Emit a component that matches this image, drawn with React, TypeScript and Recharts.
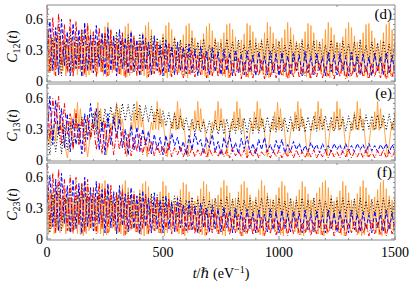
import { Line, LineChart, XAxis, YAxis } from "recharts";

const FRAME = "#8a8a8a";
const FONT = "'Liberation Serif', 'DejaVu Serif', serif";
const ORANGE = "#ff9a30";
const BLUE = "#0000ff";
const RED = "#ff0000";

const X_TICKS = [0, 100, 200, 300, 400, 500, 600, 700, 800, 900, 1000, 1100, 1200, 1300, 1400, 1500];
const X_LABELS = [0, 500, 1000, 1500];
const Y_TICKS = [0, 0.05, 0.1, 0.15, 0.2, 0.25, 0.3, 0.35, 0.4, 0.45, 0.5, 0.55, 0.6, 0.65, 0.7];
const Y_LABELS = [0, 0.3, 0.6];

// time grid (1/eV) for the dashed / dotted curves
const T = [
  0, 12.5, 25, 37.5, 50, 62.5, 75, 87.5, 100, 112.5,
  125, 137.5, 150, 162.5, 175, 187.5, 200, 212.5, 225, 237.5,
  250, 262.5, 275, 287.5, 300, 312.5, 325, 337.5, 350, 362.5,
  375, 387.5, 400, 412.5, 425, 437.5, 450, 462.5, 475, 487.5,
  500, 512.5, 525, 537.5, 550, 562.5, 575, 587.5, 600, 612.5,
  625, 637.5, 650, 662.5, 675, 687.5, 700, 712.5, 725, 737.5,
  750, 762.5, 775, 787.5, 800, 812.5, 825, 837.5, 850, 862.5,
  875, 887.5, 900, 912.5, 925, 937.5, 950, 962.5, 975, 987.5,
  1000, 1012.5, 1025, 1037.5, 1050, 1062.5, 1075, 1087.5, 1100, 1112.5,
  1125, 1137.5, 1150, 1162.5, 1175, 1187.5, 1200, 1212.5, 1225, 1237.5,
  1250, 1262.5, 1275, 1287.5, 1300, 1312.5, 1325, 1337.5, 1350, 1362.5,
  1375, 1387.5, 1400, 1412.5, 1425, 1437.5, 1450, 1462.5, 1475, 1487.5,
  1500,
];

// finer grid for the fast orange oscillation
const T_FINE = [
  0, 6.25, 12.5, 18.75, 25, 31.25, 37.5, 43.75, 50, 56.25, 62.5, 68.75, 75, 81.25, 87.5, 93.75,
  100, 106.25, 112.5, 118.75, 125, 131.25, 137.5, 143.75, 150, 156.25, 162.5, 168.75, 175, 181.25, 187.5, 193.75,
  200, 206.25, 212.5, 218.75, 225, 231.25, 237.5, 243.75, 250, 256.25, 262.5, 268.75, 275, 281.25, 287.5, 293.75,
  300, 306.25, 312.5, 318.75, 325, 331.25, 337.5, 343.75, 350, 356.25, 362.5, 368.75, 375, 381.25, 387.5, 393.75,
  400, 406.25, 412.5, 418.75, 425, 431.25, 437.5, 443.75, 450, 456.25, 462.5, 468.75, 475, 481.25, 487.5, 493.75,
  500, 506.25, 512.5, 518.75, 525, 531.25, 537.5, 543.75, 550, 556.25, 562.5, 568.75, 575, 581.25, 587.5, 593.75,
  600, 606.25, 612.5, 618.75, 625, 631.25, 637.5, 643.75, 650, 656.25, 662.5, 668.75, 675, 681.25, 687.5, 693.75,
  700, 706.25, 712.5, 718.75, 725, 731.25, 737.5, 743.75, 750, 756.25, 762.5, 768.75, 775, 781.25, 787.5, 793.75,
  800, 806.25, 812.5, 818.75, 825, 831.25, 837.5, 843.75, 850, 856.25, 862.5, 868.75, 875, 881.25, 887.5, 893.75,
  900, 906.25, 912.5, 918.75, 925, 931.25, 937.5, 943.75, 950, 956.25, 962.5, 968.75, 975, 981.25, 987.5, 993.75,
  1000, 1006.25, 1012.5, 1018.75, 1025, 1031.25, 1037.5, 1043.75, 1050, 1056.25, 1062.5, 1068.75, 1075, 1081.25, 1087.5, 1093.75,
  1100, 1106.25, 1112.5, 1118.75, 1125, 1131.25, 1137.5, 1143.75, 1150, 1156.25, 1162.5, 1168.75, 1175, 1181.25, 1187.5, 1193.75,
  1200, 1206.25, 1212.5, 1218.75, 1225, 1231.25, 1237.5, 1243.75, 1250, 1256.25, 1262.5, 1268.75, 1275, 1281.25, 1287.5, 1293.75,
  1300, 1306.25, 1312.5, 1318.75, 1325, 1331.25, 1337.5, 1343.75, 1350, 1356.25, 1362.5, 1368.75, 1375, 1381.25, 1387.5, 1393.75,
  1400, 1406.25, 1412.5, 1418.75, 1425, 1431.25, 1437.5, 1443.75, 1450, 1456.25, 1462.5, 1468.75, 1475, 1481.25, 1487.5, 1493.75,
  1500,
];

// panel (d): C12
const D_ORANGE = [
  0.30, 0.08, 0.45, 0.10, 0.40, 0.06, 0.48, 0.12, 0.42, 0.07, 0.38, 0.10, 0.46, 0.05, 0.40, 0.09,
  0.38, 0.08, 0.40, 0.10, 0.36, 0.06, 0.42, 0.09, 0.46, 0.05, 0.52, 0.04, 0.56, 0.06, 0.50, 0.08,
  0.42, 0.10, 0.38, 0.07, 0.40, 0.09, 0.45, 0.05, 0.53, 0.04, 0.57, 0.06, 0.50, 0.08, 0.44, 0.10,
  0.38, 0.07, 0.40, 0.06, 0.46, 0.05, 0.53, 0.04, 0.56, 0.05, 0.49, 0.08, 0.42, 0.10, 0.37, 0.08,
  0.40, 0.06, 0.47, 0.05, 0.54, 0.03, 0.57, 0.06, 0.50, 0.07, 0.43, 0.10, 0.38, 0.08, 0.40, 0.07,
  0.46, 0.05, 0.54, 0.03, 0.57, 0.05, 0.50, 0.08, 0.43, 0.10, 0.38, 0.08, 0.40, 0.06, 0.45, 0.05,
  0.54, 0.03, 0.56, 0.06, 0.49, 0.08, 0.42, 0.10, 0.37, 0.08, 0.40, 0.06, 0.46, 0.05, 0.53, 0.03,
  0.56, 0.06, 0.49, 0.08, 0.42, 0.10, 0.38, 0.07, 0.41, 0.05, 0.47, 0.04, 0.55, 0.03, 0.56, 0.06,
  0.50, 0.08, 0.43, 0.10, 0.37, 0.08, 0.40, 0.06, 0.46, 0.04, 0.56, 0.03, 0.54, 0.06, 0.48, 0.08,
  0.42, 0.10, 0.37, 0.08, 0.41, 0.06, 0.47, 0.04, 0.57, 0.03, 0.53, 0.06, 0.47, 0.08, 0.41, 0.10,
  0.38, 0.07, 0.42, 0.05, 0.50, 0.04, 0.57, 0.03, 0.52, 0.06, 0.45, 0.08, 0.39, 0.10, 0.37, 0.08,
  0.41, 0.06, 0.48, 0.04, 0.56, 0.03, 0.54, 0.06, 0.47, 0.08, 0.40, 0.10, 0.37, 0.07, 0.41, 0.05,
  0.50, 0.04, 0.57, 0.03, 0.52, 0.06, 0.45, 0.09, 0.38, 0.10, 0.37, 0.07, 0.43, 0.05, 0.51, 0.03,
  0.57, 0.04, 0.52, 0.07, 0.44, 0.09, 0.38, 0.10, 0.40, 0.07, 0.47, 0.05, 0.55, 0.03, 0.56, 0.06,
  0.49, 0.08, 0.42, 0.10, 0.37, 0.08, 0.40, 0.06, 0.47, 0.04, 0.55, 0.03, 0.57, 0.05, 0.50, 0.07,
  0.45,
];
const D_BLACK = [
  0.50, 0.08, 0.42, 0.15, 0.55, 0.05, 0.38, 0.12, 0.48, 0.10,
  0.44, 0.16, 0.50, 0.09, 0.36, 0.14, 0.47, 0.18, 0.40, 0.12,
  0.46, 0.20, 0.38, 0.15, 0.48, 0.22, 0.42, 0.16, 0.45, 0.19,
  0.40, 0.21, 0.46, 0.17, 0.39, 0.24, 0.44, 0.18, 0.42, 0.22,
  0.43, 0.20, 0.37, 0.25, 0.42, 0.19, 0.40, 0.23, 0.36, 0.20,
  0.42, 0.24, 0.38, 0.19, 0.41, 0.22, 0.35, 0.20, 0.40, 0.25,
  0.37, 0.20, 0.41, 0.23, 0.38, 0.19, 0.40, 0.24, 0.35, 0.21,
  0.40, 0.19, 0.37, 0.24, 0.39, 0.21, 0.41, 0.18, 0.36, 0.23,
  0.39, 0.20, 0.35, 0.22, 0.40, 0.18, 0.37, 0.24, 0.39, 0.19,
  0.36, 0.23, 0.39, 0.18, 0.38, 0.21, 0.35, 0.19, 0.40, 0.22,
  0.37, 0.18, 0.39, 0.23, 0.36, 0.20, 0.38, 0.17, 0.40, 0.22,
  0.35, 0.19, 0.38, 0.22, 0.37, 0.18, 0.39, 0.21, 0.36, 0.19,
  0.38,
];
const D_BLUE = [
  0.30, 0.58, 0.10, 0.52, 0.06, 0.60, 0.15, 0.48, 0.05, 0.56,
  0.12, 0.50, 0.04, 0.57, 0.10, 0.45, 0.08, 0.54, 0.14, 0.47,
  0.06, 0.52, 0.10, 0.44, 0.05, 0.50, 0.12, 0.42, 0.07, 0.48,
  0.09, 0.40, 0.05, 0.46, 0.11, 0.38, 0.06, 0.44, 0.10, 0.36,
  0.05, 0.40, 0.09, 0.34, 0.06, 0.38, 0.10, 0.33, 0.07, 0.36,
  0.08, 0.31, 0.05, 0.34, 0.10, 0.29, 0.06, 0.33, 0.09, 0.28,
  0.06, 0.31, 0.10, 0.27, 0.05, 0.30, 0.08, 0.26, 0.06, 0.29,
  0.09, 0.25, 0.05, 0.28, 0.10, 0.24, 0.06, 0.29, 0.08, 0.26,
  0.05, 0.28, 0.09, 0.24, 0.06, 0.27, 0.10, 0.25, 0.05, 0.29,
  0.08, 0.24, 0.06, 0.27, 0.10, 0.23, 0.05, 0.28, 0.09, 0.25,
  0.06, 0.27, 0.10, 0.23, 0.05, 0.28, 0.08, 0.24, 0.06, 0.26,
  0.09, 0.23, 0.05, 0.27, 0.10, 0.24, 0.06, 0.28, 0.08, 0.25,
  0.07,
];
const D_RED = [
  0.70, 0.10, 0.62, 0.05, 0.66, 0.15, 0.55, 0.08, 0.60, 0.04,
  0.58, 0.12, 0.50, 0.06, 0.56, 0.10, 0.48, 0.04, 0.52, 0.09,
  0.46, 0.05, 0.50, 0.11, 0.42, 0.06, 0.47, 0.03, 0.40, 0.08,
  0.44, 0.05, 0.38, 0.09, 0.42, 0.04, 0.35, 0.07, 0.38, 0.05,
  0.32, 0.08, 0.36, 0.04, 0.30, 0.06, 0.33, 0.03, 0.28, 0.07,
  0.30, 0.04, 0.25, 0.06, 0.28, 0.03, 0.23, 0.05, 0.26, 0.04,
  0.21, 0.06, 0.24, 0.03, 0.20, 0.05, 0.22, 0.02, 0.19, 0.04,
  0.21, 0.03, 0.17, 0.05, 0.20, 0.02, 0.16, 0.04, 0.19, 0.03,
  0.15, 0.05, 0.18, 0.02, 0.16, 0.04, 0.19, 0.03, 0.14, 0.05,
  0.17, 0.02, 0.15, 0.04, 0.18, 0.03, 0.14, 0.05, 0.17, 0.02,
  0.15, 0.04, 0.18, 0.02, 0.14, 0.05, 0.16, 0.03, 0.18, 0.04,
  0.14, 0.02, 0.17, 0.04, 0.15, 0.03, 0.18, 0.02, 0.15, 0.04,
  0.16,
];

// panel (e): C13
const E_ORANGE = [
  0.22, 0.30, 0.15, 0.34, 0.20, 0.36, 0.18, 0.38, 0.25, 0.40, 0.28, 0.36, 0.20, 0.10, 0.02, 0.12,
  0.28, 0.42, 0.30, 0.50, 0.29, 0.56, 0.30, 0.50, 0.33, 0.40, 0.28, 0.15, 0.03, 0.14, 0.27, 0.36,
  0.30, 0.48, 0.28, 0.56, 0.30, 0.50, 0.32, 0.40, 0.26, 0.05, 0.15, 0.27, 0.36, 0.28, 0.46, 0.30,
  0.56, 0.29, 0.50, 0.32, 0.40, 0.26, 0.14, 0.03, 0.16, 0.27, 0.37, 0.29, 0.47, 0.30, 0.57, 0.29,
  0.50, 0.32, 0.40, 0.27, 0.15, 0.03, 0.15, 0.27, 0.37, 0.29, 0.47, 0.30, 0.57, 0.29, 0.50, 0.32,
  0.40, 0.26, 0.14, 0.03, 0.15, 0.27, 0.37, 0.30, 0.47, 0.29, 0.57, 0.30, 0.50, 0.32, 0.40, 0.26,
  0.12, 0.03, 0.15, 0.27, 0.37, 0.29, 0.48, 0.30, 0.57, 0.29, 0.50, 0.32, 0.40, 0.26, 0.13, 0.03,
  0.15, 0.27, 0.37, 0.29, 0.48, 0.30, 0.57, 0.29, 0.50, 0.32, 0.40, 0.26, 0.04, 0.14, 0.27, 0.36,
  0.29, 0.47, 0.30, 0.57, 0.29, 0.50, 0.32, 0.40, 0.26, 0.14, 0.03, 0.15, 0.27, 0.37, 0.29, 0.47,
  0.30, 0.57, 0.29, 0.50, 0.32, 0.40, 0.26, 0.14, 0.03, 0.15, 0.27, 0.37, 0.29, 0.47, 0.30, 0.56,
  0.29, 0.50, 0.32, 0.40, 0.26, 0.12, 0.03, 0.15, 0.27, 0.37, 0.29, 0.47, 0.30, 0.57, 0.29, 0.50,
  0.32, 0.40, 0.26, 0.12, 0.03, 0.15, 0.27, 0.37, 0.29, 0.47, 0.30, 0.57, 0.29, 0.50, 0.32, 0.40,
  0.26, 0.04, 0.14, 0.27, 0.37, 0.29, 0.47, 0.30, 0.57, 0.29, 0.50, 0.32, 0.40, 0.26, 0.13, 0.03,
  0.15, 0.27, 0.37, 0.29, 0.47, 0.30, 0.57, 0.29, 0.50, 0.32, 0.40, 0.26, 0.12, 0.03, 0.15, 0.27,
  0.37, 0.29, 0.47, 0.30, 0.57, 0.29, 0.50, 0.32, 0.40, 0.26, 0.12, 0.03, 0.15, 0.27, 0.37, 0.29,
  0.47,
];
const E_BLACK = [
  0.28, 0.05, 0.30, 0.08, 0.32, 0.06, 0.34, 0.10, 0.36, 0.12,
  0.40, 0.15, 0.42, 0.20, 0.44, 0.22, 0.46, 0.25, 0.48, 0.28,
  0.50, 0.32, 0.52, 0.35, 0.54, 0.36, 0.55, 0.38, 0.54, 0.38,
  0.55, 0.39, 0.54, 0.38, 0.53, 0.37, 0.52, 0.36, 0.50, 0.35,
  0.48, 0.33, 0.46, 0.31, 0.45, 0.30, 0.43, 0.29, 0.41, 0.28,
  0.40, 0.27, 0.39, 0.27, 0.38, 0.26, 0.38, 0.26, 0.39, 0.25,
  0.39, 0.25, 0.40, 0.25, 0.40, 0.26, 0.41, 0.25, 0.41, 0.26,
  0.41, 0.26, 0.42, 0.26, 0.41, 0.27, 0.42, 0.27, 0.42, 0.27,
  0.42, 0.28, 0.41, 0.27, 0.42, 0.28, 0.43, 0.28, 0.42, 0.27,
  0.42, 0.28, 0.43, 0.28, 0.42, 0.29, 0.43, 0.28, 0.42, 0.28,
  0.43, 0.29, 0.42, 0.28, 0.43, 0.29, 0.44, 0.29, 0.43, 0.28,
  0.44, 0.30, 0.43, 0.29, 0.44, 0.30, 0.44, 0.29, 0.45, 0.30,
  0.44,
];
const E_BLUE = [
  0.20, 0.62, 0.15, 0.58, 0.25, 0.50, 0.12, 0.45, 0.08, 0.40,
  0.15, 0.35, 0.06, 0.45, 0.20, 0.55, 0.30, 0.50, 0.10, 0.38,
  0.05, 0.45, 0.15, 0.42, 0.22, 0.40, 0.12, 0.30, 0.05, 0.34,
  0.10, 0.32, 0.08, 0.30, 0.15, 0.28, 0.06, 0.25, 0.10, 0.22,
  0.05, 0.24, 0.10, 0.26, 0.14, 0.22, 0.08, 0.18, 0.05, 0.24,
  0.10, 0.26, 0.15, 0.20, 0.06, 0.22, 0.12, 0.25, 0.08, 0.18,
  0.05, 0.22, 0.12, 0.24, 0.08, 0.17, 0.06, 0.21, 0.11, 0.23,
  0.07, 0.16, 0.06, 0.20, 0.10, 0.22, 0.08, 0.15, 0.07, 0.19,
  0.10, 0.20, 0.07, 0.15, 0.08, 0.18, 0.10, 0.16, 0.07, 0.14,
  0.08, 0.17, 0.10, 0.15, 0.07, 0.16, 0.09, 0.14, 0.08, 0.16,
  0.10, 0.15, 0.07, 0.16, 0.09, 0.14, 0.08, 0.16, 0.10, 0.15,
  0.07, 0.16, 0.09, 0.14, 0.08, 0.15, 0.10, 0.16, 0.07, 0.15,
  0.09,
];
const E_RED = [
  0.65, 0.20, 0.60, 0.35, 0.62, 0.15, 0.55, 0.25, 0.45, 0.10,
  0.48, 0.15, 0.40, 0.08, 0.42, 0.20, 0.35, 0.10, 0.30, 0.06,
  0.38, 0.12, 0.32, 0.05, 0.28, 0.10, 0.30, 0.06, 0.25, 0.04,
  0.22, 0.08, 0.26, 0.05, 0.20, 0.06, 0.18, 0.04, 0.15, 0.05,
  0.14, 0.04, 0.16, 0.03, 0.12, 0.05, 0.13, 0.03, 0.11, 0.04,
  0.12, 0.03, 0.10, 0.04, 0.12, 0.02, 0.11, 0.04, 0.09, 0.03,
  0.11, 0.03, 0.10, 0.02, 0.12, 0.04, 0.09, 0.03, 0.10, 0.02,
  0.09, 0.03, 0.11, 0.02, 0.08, 0.04, 0.10, 0.02, 0.09, 0.03,
  0.10, 0.02, 0.08, 0.03, 0.09, 0.02, 0.10, 0.03, 0.08, 0.02,
  0.09, 0.03, 0.10, 0.02, 0.08, 0.03, 0.09, 0.02, 0.10, 0.03,
  0.08, 0.02, 0.09, 0.03, 0.10, 0.02, 0.08, 0.03, 0.09, 0.02,
  0.10, 0.03, 0.08, 0.02, 0.09, 0.03, 0.10, 0.02, 0.08, 0.03,
  0.09,
];

// panel (f): C23
const F_ORANGE = [
  0.32, 0.06, 0.47, 0.10, 0.42, 0.05, 0.50, 0.09, 0.44, 0.06, 0.40, 0.11, 0.48, 0.05, 0.42, 0.08,
  0.40, 0.07, 0.37, 0.09, 0.42, 0.05, 0.48, 0.04, 0.54, 0.03, 0.57, 0.05, 0.52, 0.08, 0.44, 0.10,
  0.38, 0.08, 0.41, 0.06, 0.47, 0.05, 0.54, 0.03, 0.57, 0.04, 0.51, 0.07, 0.44, 0.10, 0.38, 0.08,
  0.41, 0.06, 0.47, 0.05, 0.53, 0.03, 0.57, 0.05, 0.50, 0.08, 0.43, 0.10, 0.38, 0.07, 0.41, 0.06,
  0.48, 0.04, 0.54, 0.03, 0.56, 0.05, 0.51, 0.08, 0.44, 0.10, 0.38, 0.08, 0.40, 0.06, 0.46, 0.05,
  0.56, 0.03, 0.52, 0.06, 0.45, 0.09, 0.38, 0.10, 0.37, 0.07, 0.42, 0.05, 0.48, 0.04, 0.55, 0.03,
  0.53, 0.06, 0.46, 0.09, 0.39, 0.10, 0.37, 0.07, 0.42, 0.05, 0.49, 0.04, 0.56, 0.03, 0.53, 0.06,
  0.46, 0.09, 0.39, 0.10, 0.38, 0.07, 0.43, 0.05, 0.50, 0.04, 0.57, 0.03, 0.52, 0.07, 0.45, 0.09,
  0.38, 0.10, 0.40, 0.07, 0.46, 0.05, 0.53, 0.03, 0.56, 0.05, 0.50, 0.08, 0.43, 0.10, 0.37, 0.08,
  0.41, 0.06, 0.48, 0.04, 0.57, 0.03, 0.52, 0.07, 0.45, 0.09, 0.39, 0.10, 0.38, 0.07, 0.43, 0.05,
  0.50, 0.04, 0.56, 0.03, 0.52, 0.06, 0.45, 0.09, 0.38, 0.10, 0.37, 0.07, 0.42, 0.05, 0.48, 0.04,
  0.56, 0.03, 0.51, 0.07, 0.44, 0.10, 0.38, 0.08, 0.40, 0.06, 0.45, 0.05, 0.50, 0.04, 0.55, 0.03,
  0.57, 0.05, 0.50, 0.08, 0.43, 0.10, 0.37, 0.08, 0.41, 0.06, 0.47, 0.04, 0.56, 0.03, 0.52, 0.07,
  0.45, 0.09, 0.38, 0.10, 0.39, 0.07, 0.44, 0.05, 0.51, 0.03, 0.57, 0.04, 0.50, 0.08, 0.43, 0.10,
  0.37, 0.08, 0.41, 0.06, 0.48, 0.04, 0.55, 0.03, 0.57, 0.05, 0.49, 0.08, 0.42, 0.10, 0.38, 0.07,
  0.44,
];
const F_BLACK = [
  0.52, 0.06, 0.45, 0.12, 0.55, 0.08, 0.40, 0.14, 0.50, 0.10,
  0.46, 0.15, 0.52, 0.10, 0.42, 0.16, 0.48, 0.18, 0.44, 0.14,
  0.47, 0.20, 0.42, 0.17, 0.46, 0.22, 0.44, 0.19, 0.45, 0.21,
  0.42, 0.22, 0.45, 0.19, 0.41, 0.24, 0.44, 0.20, 0.43, 0.23,
  0.42, 0.22, 0.39, 0.25, 0.42, 0.21, 0.40, 0.24, 0.38, 0.22,
  0.41, 0.24, 0.39, 0.22, 0.41, 0.23, 0.38, 0.22, 0.40, 0.25,
  0.39, 0.22, 0.41, 0.24, 0.39, 0.21, 0.40, 0.24, 0.38, 0.22,
  0.40, 0.22, 0.38, 0.24, 0.40, 0.22, 0.41, 0.21, 0.38, 0.24,
  0.40, 0.22, 0.37, 0.23, 0.40, 0.21, 0.38, 0.24, 0.40, 0.22,
  0.38, 0.24, 0.40, 0.21, 0.39, 0.23, 0.37, 0.22, 0.40, 0.23,
  0.38, 0.21, 0.40, 0.24, 0.38, 0.22, 0.39, 0.21, 0.40, 0.23,
  0.37, 0.22, 0.39, 0.23, 0.38, 0.21, 0.40, 0.23, 0.38, 0.22,
  0.39,
];
const F_BLUE = [
  0.35, 0.62, 0.12, 0.58, 0.08, 0.64, 0.15, 0.52, 0.06, 0.58,
  0.10, 0.54, 0.05, 0.60, 0.12, 0.50, 0.08, 0.56, 0.15, 0.48,
  0.06, 0.54, 0.11, 0.46, 0.05, 0.52, 0.13, 0.44, 0.07, 0.50,
  0.10, 0.42, 0.05, 0.47, 0.12, 0.40, 0.06, 0.45, 0.10, 0.38,
  0.06, 0.42, 0.10, 0.36, 0.07, 0.40, 0.11, 0.33, 0.08, 0.37,
  0.09, 0.32, 0.06, 0.35, 0.11, 0.30, 0.07, 0.33, 0.10, 0.29,
  0.07, 0.31, 0.11, 0.27, 0.06, 0.30, 0.09, 0.26, 0.07, 0.29,
  0.10, 0.25, 0.06, 0.28, 0.11, 0.24, 0.07, 0.29, 0.09, 0.26,
  0.06, 0.28, 0.10, 0.24, 0.07, 0.27, 0.11, 0.25, 0.06, 0.28,
  0.09, 0.24, 0.07, 0.27, 0.11, 0.23, 0.06, 0.28, 0.10, 0.25,
  0.07, 0.27, 0.11, 0.23, 0.06, 0.28, 0.09, 0.24, 0.07, 0.26,
  0.10, 0.23, 0.06, 0.27, 0.11, 0.24, 0.07, 0.28, 0.09, 0.25,
  0.08,
];
const F_RED = [
  0.72, 0.12, 0.64, 0.06, 0.68, 0.18, 0.58, 0.08, 0.62, 0.05,
  0.60, 0.14, 0.54, 0.07, 0.58, 0.11, 0.50, 0.05, 0.55, 0.10,
  0.50, 0.06, 0.53, 0.12, 0.45, 0.07, 0.49, 0.04, 0.43, 0.09,
  0.46, 0.06, 0.40, 0.10, 0.44, 0.05, 0.37, 0.08, 0.40, 0.06,
  0.35, 0.09, 0.38, 0.05, 0.32, 0.07, 0.35, 0.04, 0.30, 0.08,
  0.32, 0.05, 0.27, 0.07, 0.30, 0.04, 0.25, 0.06, 0.28, 0.05,
  0.23, 0.07, 0.26, 0.04, 0.22, 0.06, 0.24, 0.03, 0.21, 0.05,
  0.22, 0.04, 0.19, 0.06, 0.21, 0.03, 0.18, 0.05, 0.20, 0.04,
  0.17, 0.06, 0.19, 0.03, 0.17, 0.05, 0.20, 0.04, 0.16, 0.06,
  0.18, 0.03, 0.16, 0.05, 0.19, 0.04, 0.15, 0.06, 0.18, 0.03,
  0.16, 0.05, 0.19, 0.03, 0.15, 0.06, 0.17, 0.04, 0.19, 0.05,
  0.15, 0.03, 0.18, 0.05, 0.16, 0.04, 0.19, 0.03, 0.16, 0.05,
  0.17,
];

const buildRows = (k: number[], b: number[], r: number[]) =>
  T.map((t, i) => ({ t, k: k[i], b: b[i], r: r[i] }));
const buildFine = (o: number[]) => T_FINE.map((t, i) => ({ t, o: o[i] }));

function makeTick(side: "bottom" | "top" | "left" | "right", labels: boolean) {
  return (props: any) => {
    const { x, y, payload } = props;
    const v = payload.value;
    const major = side === "bottom" || side === "top" ? X_LABELS.includes(v) : Y_LABELS.includes(v);
    const len = major ? 4 : 2;
    let line;
    if (side === "bottom") line = <line x1={x} y1={y} x2={x} y2={y - len} stroke={FRAME} />;
    else if (side === "top") line = <line x1={x} y1={y} x2={x} y2={y + len} stroke={FRAME} />;
    else if (side === "left") line = <line x1={x} y1={y} x2={x + len} y2={y} stroke={FRAME} />;
    else line = <line x1={x} y1={y} x2={x - len} y2={y} stroke={FRAME} />;
    return (
      <g>
        {line}
        {labels && major && side === "bottom" && (
          <text x={x} y={y + 17} textAnchor="middle" fontFamily={FONT} fontSize={14} fill="#000">
            {v}
          </text>
        )}
        {labels && major && side === "left" && (
          <text x={x - 4} y={y + 5} textAnchor="end" fontFamily={FONT} fontSize={14} fill="#000">
            {v}
          </text>
        )}
      </g>
    );
  };
}

function YTitle({ viewBox, sub }: any) {
  const cx = viewBox.x + 17;
  const cy = viewBox.y + viewBox.height / 2 + 3;
  return (
    <text
      x={cx}
      y={cy}
      transform={`rotate(-90, ${cx}, ${cy})`}
      textAnchor="middle"
      fontFamily={FONT}
      fontSize={14}
      fill="#000"
    >
      <tspan fontStyle="italic">C</tspan>
      <tspan fontSize={10} dy={3}>{sub}</tspan>
      <tspan dy={-3}>(</tspan>
      <tspan fontStyle="italic">t</tspan>
      <tspan>)</tspan>
    </text>
  );
}

function Tag({ viewBox, text }: any) {
  return (
    <text x={viewBox.x - 3} y={viewBox.y + 14} textAnchor="end" fontFamily={FONT} fontSize={15} fill="#000">
      {text}
    </text>
  );
}

function XTitle({ viewBox }: any) {
  return (
    <text
      x={viewBox.x + viewBox.width / 2}
      y={viewBox.y + 38}
      textAnchor="middle"
      fontFamily={FONT}
      fontSize={14}
      fill="#000"
    >
      <tspan fontStyle="italic">t</tspan>
      <tspan>/</tspan>
      <tspan fontStyle="italic">ℏ</tspan>
      <tspan> (eV</tspan>
      <tspan fontSize={10} dy={-5}>−1</tspan>
      <tspan dy={5}>)</tspan>
    </text>
  );
}

type PanelProps = {
  top: number;
  topH: number;
  botH: number;
  sub: string;
  tag: string;
  last?: boolean;
  o: number[];
  k: number[];
  b: number[];
  r: number[];
};

const PLOT_H = 77;

function Panel({ top, topH, botH, sub, tag, last, o, k, b, r }: PanelProps) {
  const rows = buildRows(k, b, r);
  const fine = buildFine(o);
  return (
    <div style={{ position: "absolute", left: 0, top }}>
      <LineChart
        width={415}
        height={topH + PLOT_H + botH}
        data={rows}
        margin={{ top: 0, right: 0, bottom: 0, left: 0 }}
      >
        <XAxis
          xAxisId="b"
          dataKey="t"
          type="number"
          domain={[0, 1500]}
          allowDataOverflow
          ticks={X_TICKS}
          interval={0}
          height={botH}
          tickSize={0}
          tickMargin={0}
          tickLine={false}
          axisLine={{ stroke: FRAME }}
          tick={makeTick("bottom", !!last)}
          label={last ? <XTitle /> : undefined}
        />
        <XAxis
          xAxisId="top"
          orientation="top"
          type="number"
          domain={[0, 1500]}
          allowDataOverflow
          ticks={X_TICKS}
          interval={0}
          height={topH}
          tickSize={0}
          tickMargin={0}
          tickLine={false}
          axisLine={{ stroke: FRAME }}
          tick={makeTick("top", false)}
        />
        <YAxis
          yAxisId="l"
          type="number"
          domain={[-0.01, 0.74]}
          allowDataOverflow
          ticks={Y_TICKS}
          interval={0}
          width={47}
          tickSize={0}
          tickMargin={0}
          tickLine={false}
          axisLine={{ stroke: FRAME }}
          tick={makeTick("left", true)}
          label={<YTitle sub={sub} />}
        />
        <YAxis
          yAxisId="r"
          orientation="right"
          type="number"
          domain={[-0.01, 0.74]}
          allowDataOverflow
          ticks={Y_TICKS}
          interval={0}
          width={20}
          tickSize={0}
          tickMargin={0}
          tickLine={false}
          axisLine={{ stroke: FRAME }}
          tick={makeTick("right", false)}
          label={<Tag text={tag} />}
        />
        <Line xAxisId="b" yAxisId="l" data={fine} dataKey="o" stroke={ORANGE} strokeWidth={1} strokeOpacity={0.85} dot={false} isAnimationActive={false} />
        <Line xAxisId="b" yAxisId="l" dataKey="k" stroke="#000" strokeWidth={1} strokeDasharray="1 2" dot={false} isAnimationActive={false} />
        <Line xAxisId="b" yAxisId="l" dataKey="b" stroke={BLUE} strokeWidth={1} strokeDasharray="4 2" dot={false} isAnimationActive={false} />
        <Line xAxisId="b" yAxisId="l" dataKey="r" stroke={RED} strokeWidth={1} strokeDasharray="5 2 1 2" dot={false} isAnimationActive={false} />
      </LineChart>
    </div>
  );
}

export default function App() {
  return (
    <div style={{ position: "relative", width: 415, height: 286, background: "#fff" }}>
      <style>{"body{margin:0}"}</style>
      <Panel top={0} topH={5} botH={8} sub="12" tag="(d)" o={D_ORANGE} k={D_BLACK} b={D_BLUE} r={D_RED} />
      <Panel top={82} topH={2} botH={8} sub="13" tag="(e)" o={E_ORANGE} k={E_BLACK} b={E_BLUE} r={E_RED} />
      <Panel top={161} topH={2} botH={46} sub="23" tag="(f)" last o={F_ORANGE} k={F_BLACK} b={F_BLUE} r={F_RED} />
    </div>
  );
}
